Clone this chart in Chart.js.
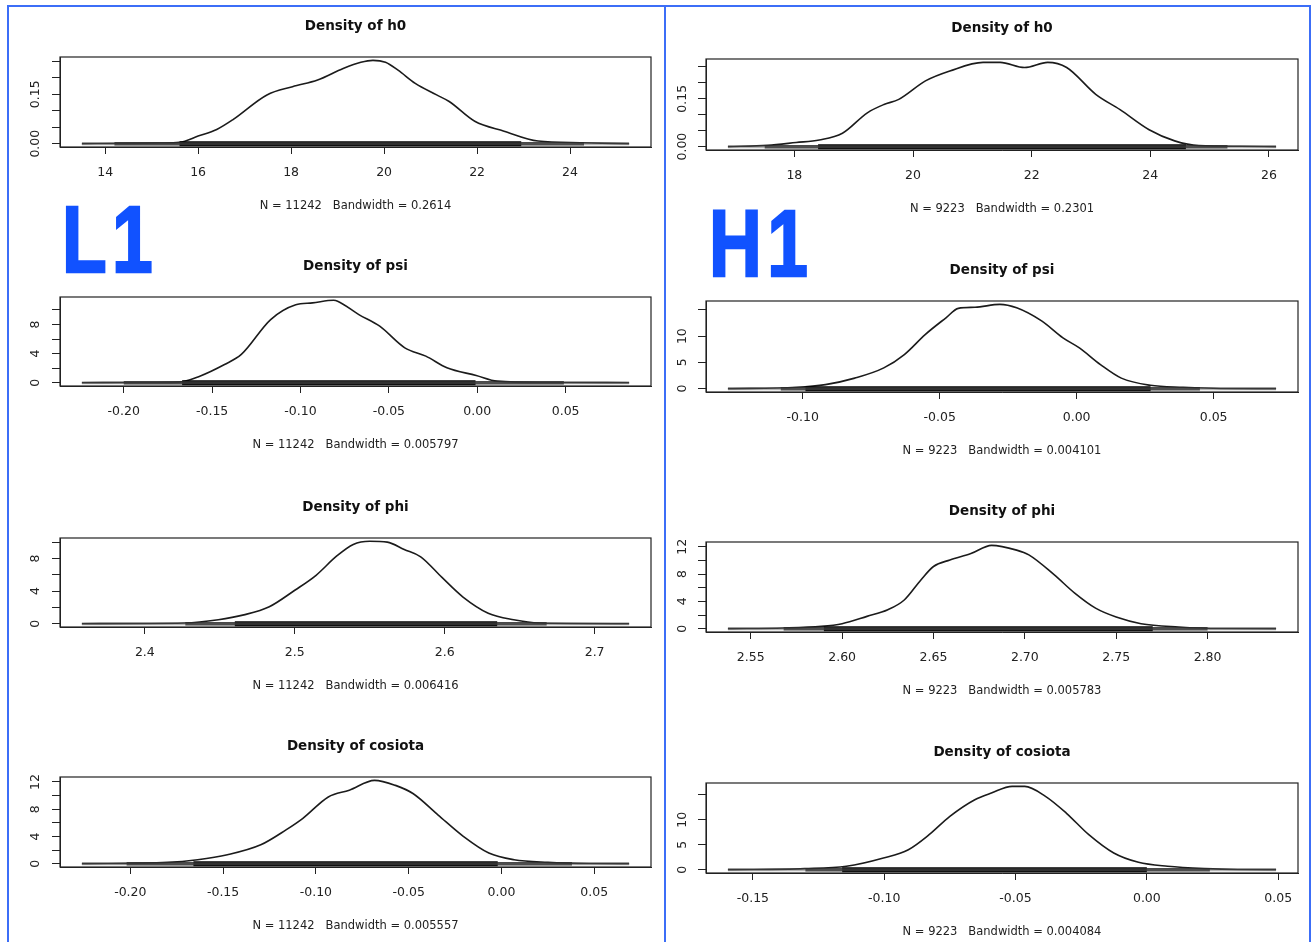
<!DOCTYPE html>
<html>
<head>
<meta charset="utf-8">
<script src="https://cdn.jsdelivr.net/npm/chart.js@4.4.0/dist/chart.umd.min.js"></script>
<style>
  body { margin: 0; width: 1312px; height: 942px; overflow: hidden; background: #fff; position: relative; }
  .rule { position: absolute; background: #3c6ef7; }
  .tag { position: absolute; font: bold 95px "Liberation Sans", Arial, sans-serif; color: #1152ff; line-height: 1;
         letter-spacing: 7px; -webkit-text-stroke: 2.5px #1152ff; transform: scaleX(0.77); transform-origin: left top; }
  canvas { position: absolute; }
</style>
</head>
<body>
<div class="rule" style="left:7px;top:5px;width:1304px;height:2px"></div>
<div class="rule" style="left:7px;top:5px;width:2px;height:940px"></div>
<div class="rule" style="left:664px;top:5px;width:2px;height:940px"></div>
<div class="rule" style="left:1309px;top:5px;width:2px;height:940px"></div>
<div class="tag" style="left:62px;top:192px">L1</div>
<div class="tag" style="left:709px;top:196px">H1</div>
<script>
  // ---- L1 column, N = 11242 ----
  const nL = 11242;
  const bwL = ['0.2614', '0.005797', '0.006416', '0.005557'];

  const h0L_x = [13.5, 14.5, 15.2, 15.6, 16.0, 16.4, 16.75, 17.48, 18.03, 18.57, 19.12, 19.5, 19.76, 20.03, 20.3, 20.67, 21.13, 21.4, 21.95, 22.58, 23.31, 24.22, 25.27];
  const h0L_y = [0, 0.001, 0.002, 0.004, 0.023, 0.043, 0.073, 0.148, 0.173, 0.193, 0.228, 0.247, 0.253, 0.247, 0.223, 0.183, 0.148, 0.128, 0.068, 0.038, 0.008, 0.003, 0];
  const h0L_rug = [13.5, 14.2, 15.6, 22.95, 24.3, 25.27];
  const h0L_xTicks = [14, 16, 18, 20, 22, 24];
  const h0L_yTicks = [0, 0.05, 0.1, 0.15, 0.2, 0.25];
  const h0L_yLabels = [0, 0.15];

  const psiL_x = [-0.2237, -0.19, -0.169, -0.157, -0.143, -0.1335, -0.1169, -0.1027, -0.0932, -0.0813, -0.079, -0.067, -0.0552, -0.041, -0.0291, -0.0172, -0.0006, 0.0113, 0.0398, 0.0859];
  const psiL_y = [0, 0.02, 0.08, 0.9, 2.5, 3.88, 8.67, 10.7, 10.96, 11.32, 11.2, 9.36, 7.76, 4.79, 3.65, 2.05, 1.0, 0.22, 0.03, 0];
  const psiL_rug = [-0.2237, -0.2, -0.167, -0.001, 0.049, 0.0859];
  const psiL_xTicks = [-0.2, -0.15, -0.1, -0.05, 0, 0.05];
  const psiL_yTicks = [0, 2, 4, 6, 8, 10];
  const psiL_yLabels = [0, 4, 8];

  const phiL_x = [2.358, 2.4267, 2.449, 2.466, 2.483, 2.5, 2.514, 2.528, 2.539, 2.55, 2.5617, 2.573, 2.584, 2.598, 2.612, 2.629, 2.646, 2.663, 2.723];
  const phiL_y = [0, 0.08, 0.48, 1.08, 2.08, 4.1, 5.9, 8.3, 9.72, 10.1, 10.0, 9.1, 8.2, 5.7, 3.3, 1.29, 0.48, 0.08, 0];
  const phiL_rug = [2.358, 2.427, 2.46, 2.635, 2.668, 2.723];
  const phiL_xTicks = [2.4, 2.5, 2.6, 2.7];
  const phiL_yTicks = [0, 2, 4, 6, 8, 10];
  const phiL_yLabels = [0, 4, 8];

  const cosL_x = [-0.2261, -0.1798, -0.1637, -0.1477, -0.1297, -0.1161, -0.107, -0.0933, -0.082, -0.0684, -0.0571, -0.0477, -0.0341, -0.0204, -0.0068, 0.0068, 0.025, 0.0473, 0.0688];
  const cosL_y = [0, 0.19, 0.58, 1.31, 2.77, 4.96, 6.66, 9.8, 10.8, 12.24, 11.5, 10.3, 7.14, 3.98, 1.56, 0.58, 0.19, 0.02, 0];
  const cosL_rug = [-0.2261, -0.202, -0.166, -0.002, 0.038, 0.0688];
  const cosL_xTicks = [-0.2, -0.15, -0.1, -0.05, 0, 0.05];
  const cosL_yTicks = [0, 2, 4, 6, 8, 10, 12];
  const cosL_yLabels = [0, 4, 8, 12];

  // ---- H1 column, N = 9223 ----
  const nH = 9223;
  const bwH = ['0.2301', '0.004101', '0.005783', '0.004084'];

  const h0H_x = [16.88, 17.55, 18.03, 18.42, 18.81, 19.23, 19.51, 19.76, 20.21, 20.62, 21.18, 21.47, 21.88, 22.27, 22.59, 23.08, 23.49, 23.98, 24.41, 24.82, 25.52, 26.12];
  const h0H_y = [0, 0.004, 0.013, 0.021, 0.042, 0.106, 0.132, 0.148, 0.206, 0.237, 0.264, 0.264, 0.248, 0.264, 0.248, 0.164, 0.116, 0.053, 0.018, 0.003, 0.001, 0];
  const h0H_rug = [16.88, 17.5, 18.4, 24.6, 25.3, 26.12];
  const h0H_xTicks = [18, 20, 22, 24, 26];
  const h0H_yTicks = [0, 0.05, 0.1, 0.15, 0.2, 0.25];
  const h0H_yLabels = [0, 0.15];

  const psiH_x = [-0.1273, -0.1023, -0.0917, -0.081, -0.0704, -0.0629, -0.0553, -0.0477, -0.0432, -0.0371, -0.028, -0.0219, -0.0128, -0.005, 0.001, 0.0087, 0.0163, 0.0269, 0.0389, 0.0525, 0.0728];
  const psiH_y = [0, 0.25, 0.76, 2.0, 3.95, 6.5, 10.3, 13.5, 15.3, 15.5, 16.06, 15.4, 12.9, 9.68, 7.76, 4.58, 2.0, 0.63, 0.25, 0.02, 0];
  const psiH_rug = [-0.1273, -0.108, -0.099, 0.027, 0.045, 0.0728];
  const psiH_xTicks = [-0.1, -0.05, 0, 0.05];
  const psiH_yTicks = [0, 5, 10, 15];
  const psiH_yLabels = [0, 5, 10];

  const phiH_x = [2.5375, 2.568, 2.5886, 2.6, 2.6136, 2.625, 2.634, 2.643, 2.65, 2.659, 2.6705, 2.6818, 2.6955, 2.7022, 2.716, 2.7273, 2.7387, 2.75, 2.7636, 2.7841, 2.8068, 2.8375];
  const phiH_y = [0, 0.1, 0.34, 0.73, 1.8, 2.77, 4.2, 7.1, 9.1, 10.06, 11.0, 12.2, 11.5, 10.8, 7.9, 5.2, 3.0, 1.7, 0.73, 0.25, 0.02, 0];
  const phiH_rug = [2.5375, 2.568, 2.59, 2.77, 2.8, 2.8375];
  const phiH_xTicks = [2.55, 2.6, 2.65, 2.7, 2.75, 2.8];
  const phiH_yTicks = [0, 2, 4, 6, 8, 10, 12];
  const phiH_yLabels = [0, 4, 8, 12];

  const cosH_x = [-0.1595, -0.1303, -0.1144, -0.1003, -0.0908, -0.0829, -0.075, -0.0655, -0.0592, -0.0513, -0.0465, -0.0386, -0.0307, -0.0221, -0.0126, -0.0032, 0.0079, 0.022, 0.0347, 0.0492];
  const cosH_y = [0, 0.2, 0.67, 2.33, 4.0, 7.0, 10.67, 14.0, 15.33, 16.67, 16.67, 14.67, 11.33, 7.0, 3.33, 1.47, 0.67, 0.2, 0.02, 0];
  const cosH_rug = [-0.1595, -0.13, -0.116, 0.0, 0.024, 0.0492];
  const cosH_xTicks = [-0.15, -0.1, -0.05, 0, 0.05];
  const cosH_yTicks = [0, 5, 10, 15];
  const cosH_yLabels = [0, 5, 10];

  // column geometry (page px)
  const cols = {
    L: { left: 10, width: 652, padL: 50, padR: 11, labOff: 24 },
    H: { left: 668, width: 638, padL: 38, padR: 8, labOff: 23 }
  };

  const panels = [
    { col: 'L', top: 57, h: 90, name: 'h0', x: h0L_x, y: h0L_y, rug: h0L_rug, xt: h0L_xTicks, yt: h0L_yTicks, yl: h0L_yLabels, xd: 0, yd: 2, n: nL, bw: bwL[0] },
    { col: 'L', top: 297, h: 89, name: 'psi', x: psiL_x, y: psiL_y, rug: psiL_rug, xt: psiL_xTicks, yt: psiL_yTicks, yl: psiL_yLabels, xd: 2, yd: 0, n: nL, bw: bwL[1] },
    { col: 'L', top: 538, h: 89, name: 'phi', x: phiL_x, y: phiL_y, rug: phiL_rug, xt: phiL_xTicks, yt: phiL_yTicks, yl: phiL_yLabels, xd: 1, yd: 0, n: nL, bw: bwL[2] },
    { col: 'L', top: 777, h: 90, name: 'cosiota', x: cosL_x, y: cosL_y, rug: cosL_rug, xt: cosL_xTicks, yt: cosL_yTicks, yl: cosL_yLabels, xd: 2, yd: 0, n: nL, bw: bwL[3] },
    { col: 'H', top: 59, h: 91, name: 'h0', x: h0H_x, y: h0H_y, rug: h0H_rug, xt: h0H_xTicks, yt: h0H_yTicks, yl: h0H_yLabels, xd: 0, yd: 2, n: nH, bw: bwH[0] },
    { col: 'H', top: 301, h: 91, name: 'psi', x: psiH_x, y: psiH_y, rug: psiH_rug, xt: psiH_xTicks, yt: psiH_yTicks, yl: psiH_yLabels, xd: 2, yd: 0, n: nH, bw: bwH[1] },
    { col: 'H', top: 542, h: 90, name: 'phi', x: phiH_x, y: phiH_y, rug: phiH_rug, xt: phiH_xTicks, yt: phiH_yTicks, yl: phiH_yLabels, xd: 2, yd: 0, n: nH, bw: bwH[2] },
    { col: 'H', top: 783, h: 90, name: 'cosiota', x: cosH_x, y: cosH_y, rug: cosH_rug, xt: cosH_xTicks, yt: cosH_yTicks, yl: cosH_yLabels, xd: 2, yd: 0, n: nH, bw: bwH[3] }
  ];

  // R-style box and rotated y labels
  const rFrame = {
    id: 'rFrame',
    afterDraw(chart, args, opts) {
      const { ctx, chartArea: a } = chart;
      const y = chart.scales.y;
      ctx.save();
      ctx.strokeStyle = '#222';
      ctx.lineWidth = 1.2;
      ctx.strokeRect(a.left, a.top, a.right - a.left, a.bottom - a.top);
      ctx.fillStyle = '#222';
      ctx.font = '12.5px "DejaVu Sans"';
      ctx.textAlign = 'center';
      ctx.textBaseline = 'middle';
      opts.labels.forEach(v => {
        ctx.save();
        ctx.translate(a.left - opts.offset, y.getPixelForValue(v));
        ctx.rotate(-Math.PI / 2);
        ctx.fillText(v.toFixed(opts.digits), 0, 0);
        ctx.restore();
      });
      ctx.restore();
    }
  };

  const seg = (a, b) => [{ x: a, y: 0 }, { x: b, y: 0 }];
  const axisFont = { family: 'DejaVu Sans', size: 12.5 };

  panels.forEach(p => {
    const c = cols[p.col];
    const cv = document.createElement('canvas');
    cv.width = c.width;
    cv.height = p.h + 120;
    cv.style.left = c.left + 'px';
    cv.style.top = (p.top - 50) + 'px';
    document.body.appendChild(cv);

    const xr = p.rug[5] - p.rug[0];
    const ymax = Math.max(...p.y);

    new Chart(cv, {
      type: 'scatter',
      data: {
        datasets: [
          { data: seg(p.rug[0], p.rug[5]), showLine: true, borderColor: 'rgba(90,90,90,0.45)', borderWidth: 3 },
          { data: seg(p.rug[1], p.rug[4]), showLine: true, borderColor: 'rgba(20,20,20,0.8)', borderWidth: 3.5 },
          { data: seg(p.rug[2], p.rug[3]), showLine: true, borderColor: '#000', borderWidth: 5 },
          { data: p.x.map((v, i) => ({ x: v, y: p.y[i] })), showLine: true, borderColor: '#1b1b1b', borderWidth: 1.6, cubicInterpolationMode: 'monotone' }
        ]
      },
      options: {
        responsive: false,
        animation: false,
        events: [],
        devicePixelRatio: 1,
        elements: { point: { radius: 0 }, line: { borderCapStyle: 'butt' } },
        layout: { padding: { left: c.padL, right: c.padR, top: 0, bottom: 0 } },
        scales: {
          x: {
            type: 'linear',
            min: p.rug[0] - 0.04 * xr,
            max: p.rug[5] + 0.04 * xr,
            afterBuildTicks: s => { s.ticks = p.xt.map(v => ({ value: v })); },
            afterFit: s => { s.height = 40; },
            ticks: { callback: v => v.toFixed(p.xd), color: '#222', font: axisFont, padding: 11.5, maxRotation: 0, autoSkip: false },
            grid: { drawOnChartArea: false, tickLength: 7, color: '#222' },
            border: { color: '#222' }
          },
          y: {
            type: 'linear',
            min: -0.04 * ymax,
            max: 1.04 * ymax,
            afterBuildTicks: s => { s.ticks = p.yt.map(v => ({ value: v })); },
            afterFit: s => { s.width = 0; },
            ticks: { display: false },
            grid: { drawOnChartArea: false, tickLength: 8, color: '#222' },
            border: { color: '#222' }
          }
        },
        plugins: {
          legend: { display: false },
          tooltip: { enabled: false },
          title: {
            display: true,
            text: 'Density of ' + p.name,
            color: '#111',
            font: { family: 'DejaVu Sans', size: 13.5, weight: 'bold' },
            padding: { top: 11.5, bottom: 22.3 }
          },
          subtitle: {
            display: true,
            position: 'bottom',
            text: 'N = ' + p.n + '   Bandwidth = ' + p.bw,
            color: '#222',
            font: { family: 'DejaVu Sans', size: 11.5 },
            padding: { top: 12, bottom: 4.2 }
          },
          rFrame: { labels: p.yl, digits: p.yd, offset: c.labOff }
        }
      },
      plugins: [rFrame]
    });
  });
</script>
</body>
</html>
